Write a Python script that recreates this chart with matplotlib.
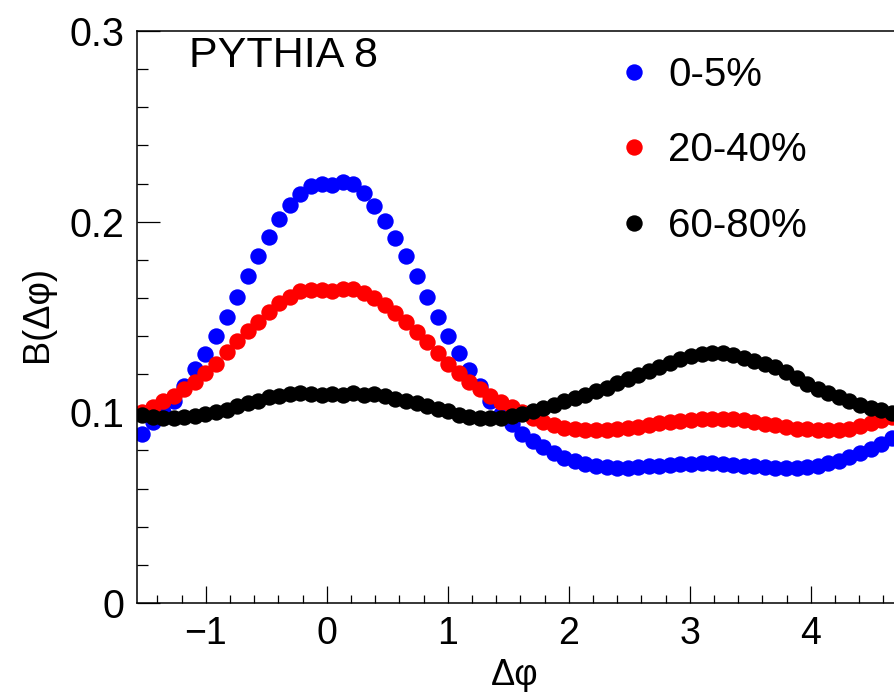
import numpy as np
import matplotlib
matplotlib.use("Agg")
import matplotlib.pyplot as plt
from matplotlib.ticker import MultipleLocator, FixedLocator, FixedFormatter

plt.rcParams['font.family'] = ['Liberation Sans', 'DejaVu Sans']

# 72 bins over [-pi/2, 3pi/2)
nbins = 72
edges = np.linspace(-np.pi / 2, 3 * np.pi / 2, nbins + 1)
dphi = 0.5 * (edges[:-1] + edges[1:])

labels = ['0-5%', '20-40%', '60-80%']
colors = ['#0000ff', '#ff0000', '#000000']

b_0_5 = [
    0.0887, 0.0948, 0.1000, 0.1060, 0.1140, 0.1228, 0.1307, 0.1398, 0.1500, 0.1605,
    0.1713, 0.1820, 0.1917, 0.2013, 0.2086, 0.2143, 0.2188, 0.2195, 0.2191, 0.2206,
    0.2195, 0.2151, 0.2083, 0.2002, 0.1915, 0.1820, 0.1713, 0.1605, 0.1500, 0.1400,
    0.1310, 0.1224, 0.1140, 0.1060, 0.0990, 0.0940, 0.0887, 0.0851, 0.0816, 0.0788,
    0.0762, 0.0744, 0.0728, 0.0717, 0.0712, 0.0710, 0.0710, 0.0712, 0.0716, 0.0720,
    0.0724, 0.0728, 0.0731, 0.0733, 0.0732, 0.0730, 0.0726, 0.0721, 0.0716, 0.0712,
    0.0710, 0.0709, 0.0710, 0.0714, 0.0721, 0.0732, 0.0746, 0.0764, 0.0786, 0.0810,
    0.0835, 0.0865,
]

b_20_40 = [
    0.1000, 0.1026, 0.1060, 0.1088, 0.1120, 0.1161, 0.1207, 0.1254, 0.1315, 0.1373,
    0.1426, 0.1473, 0.1526, 0.1573, 0.1605, 0.1634, 0.1643, 0.1640, 0.1634, 0.1648,
    0.1645, 0.1628, 0.1600, 0.1564, 0.1522, 0.1473, 0.1420, 0.1368, 0.1312, 0.1254,
    0.1207, 0.1161, 0.1123, 0.1084, 0.1053, 0.1030, 0.1000, 0.0972, 0.0950, 0.0932,
    0.0919, 0.0910, 0.0905, 0.0905, 0.0908, 0.0912, 0.0918, 0.0925, 0.0933, 0.0942,
    0.0950, 0.0957, 0.0962, 0.0965, 0.0967, 0.0967, 0.0964, 0.0958, 0.0950, 0.0941,
    0.0932, 0.0923, 0.0915, 0.0910, 0.0906, 0.0905, 0.0908, 0.0915, 0.0927, 0.0942,
    0.0958, 0.0975,
]

b_60_80 = [
    0.0986, 0.0974, 0.0968, 0.0969, 0.0974, 0.0983, 0.0992, 0.1000, 0.1013, 0.1032,
    0.1050, 0.1062, 0.1078, 0.1085, 0.1095, 0.1100, 0.1094, 0.1092, 0.1097, 0.1093,
    0.1099, 0.1093, 0.1095, 0.1085, 0.1071, 0.1062, 0.1050, 0.1035, 0.1018, 0.1005,
    0.0988, 0.0978, 0.0970, 0.0968, 0.0972, 0.0982, 0.0993, 0.1008, 0.1022, 0.1040,
    0.1058, 0.1075, 0.1090, 0.1110, 0.1130, 0.1152, 0.1175, 0.1196, 0.1218, 0.1240,
    0.1260, 0.1278, 0.1294, 0.1305, 0.1312, 0.1310, 0.1300, 0.1285, 0.1270, 0.1255,
    0.1236, 0.1210, 0.1180, 0.1150, 0.1122, 0.1100, 0.1078, 0.1058, 0.1040, 0.1025,
    0.1010, 0.0995,
]

series = [b_0_5, b_20_40, b_60_80]

W, H = 894, 692
fig = plt.figure(figsize=(W / 100, H / 100), dpi=100)
ax = fig.add_axes([136.8 / W, (H - 603) / H, (896.9 - 136.8) / W, (603 - 31) / H])

for vals, col, lab in zip(series, colors, labels):
    ax.plot(dphi, vals, 'o', color=col, ms=11.8, mew=0, label=lab)

ax.set_xlim(-np.pi / 2, 3 * np.pi / 2)
ax.set_ylim(0, 0.3)

ax.xaxis.set_major_locator(FixedLocator([-1, 0, 1, 2, 3, 4]))
ax.xaxis.set_major_formatter(FixedFormatter(['\u22121', '0', '1', '2', '3', '4']))
ax.xaxis.set_minor_locator(MultipleLocator(0.2))
ax.yaxis.set_major_locator(FixedLocator([0, 0.1, 0.2, 0.3]))
ax.yaxis.set_major_formatter(FixedFormatter(['0', '0.1', '0.2', '0.3']))
ax.yaxis.set_minor_locator(MultipleLocator(0.02))

ax.tick_params(which='both', direction='in', top=False, right=False, width=0.9)
ax.tick_params(axis='x', which='major', length=12.2, pad=9, labelsize=27)
ax.tick_params(axis='x', which='minor', length=6.1)
ax.tick_params(axis='y', which='major', length=16.6, pad=9, labelsize=28.5)
ax.tick_params(axis='y', which='minor', length=8)
for sp in ax.spines.values():
    sp.set_linewidth(1.1)

fig.text(515 / W, (H - 685) / H, '\u0394\u03c6', ha='center', va='baseline', fontsize=26)
fig.text(38 / W, 1 - 314 / H, 'B(\u0394\u03c6)', rotation=90, ha='center', va='center', fontsize=26)
fig.text(189 / W, 1 - 66.7 / H, 'PYTHIA 8', ha='left', va='baseline', fontsize=31)

leg = ax.legend(loc='upper left', bbox_to_anchor=(618 / W, 1 - 56 / H),
                bbox_transform=fig.transFigure, frameon=False, fontsize=29,
                numpoints=1, handlelength=0.8, handletextpad=0.45,
                labelspacing=0.93, borderpad=0, borderaxespad=0)

fig.savefig('out.png', dpi=100)
